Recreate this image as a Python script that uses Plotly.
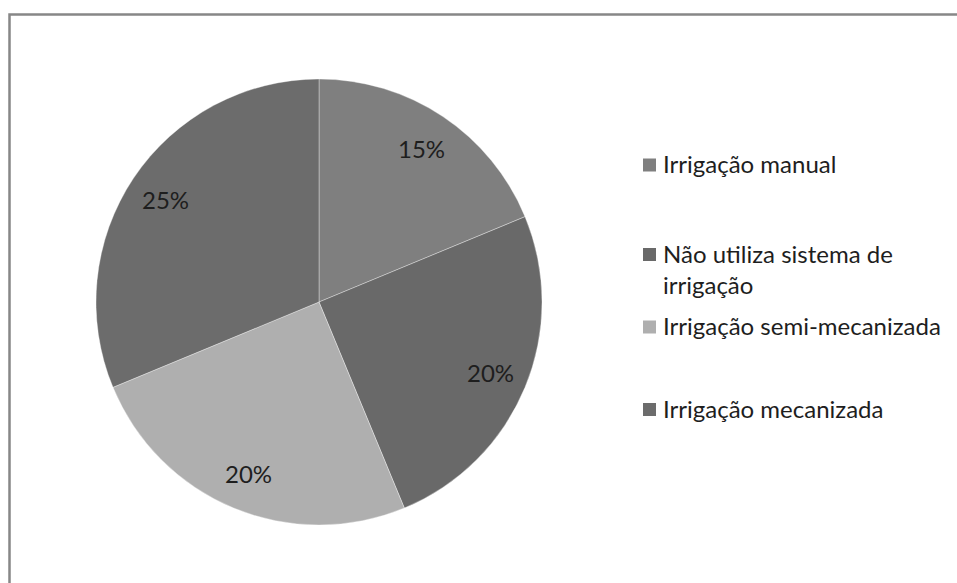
import math
import plotly.graph_objects as go

# Irrigation method shares
categories = [
    "Irrigação manual",
    "Não utiliza sistema de irrigação",
    "Irrigação semi-mecanizada",
    "Irrigação mecanizada",
]
legend_labels = [
    "Irrigação manual",
    "Não utiliza sistema de<br>irrigação",
    "Irrigação semi-mecanizada",
    "Irrigação mecanizada",
]
values = [15, 20, 20, 25]
colors = ["#7f7f7f", "#696969", "#afafaf", "#6c6c6c"]

W, H = 957, 583
FONT = "Lato"

# pie placement in pixels
cx_px, cy_px, r_px = 319, 302, 223
dom_x = [(cx_px - r_px) / W, (cx_px + r_px) / W]
dom_y = [1 - (cy_px + r_px) / H, 1 - (cy_px - r_px) / H]

fig = go.Figure(
    go.Pie(
        labels=categories,
        values=values,
        marker=dict(colors=colors, line=dict(color="rgba(255,255,255,0.35)", width=1)),
        sort=False,
        direction="clockwise",
        rotation=0,
        textinfo="none",
        hoverinfo="label+value",
        showlegend=False,
        domain=dict(x=dom_x, y=dom_y),
    )
)

# value labels placed along each slice's mid-angle
total = sum(values)
cum = 0
annotations = []
for v in values:
    mid = (cum + v / 2) / total * 2 * math.pi
    cum += v
    rr = 0.83 * r_px
    px = cx_px + rr * math.sin(mid)
    py = cy_px - rr * math.cos(mid)
    annotations.append(dict(
        x=px / W, y=1 - py / H, xref="paper", yref="paper",
        text=f"{v}%", showarrow=False,
        font=dict(family=FONT, size=24, color="#1e1e1e"),
        xanchor="center", yanchor="middle",
    ))

# legend drawn as swatches and labels
shapes = []
legend_rows = [165, 254.5, 327, 409.5]
sw = 13
for lab, col, yc in zip(legend_labels, colors, legend_rows):
    shapes.append(dict(
        type="rect", xref="paper", yref="paper",
        x0=643 / W, x1=(643 + sw) / W,
        y0=1 - (yc + sw / 2) / H, y1=1 - (yc - sw / 2) / H,
        fillcolor=col, line=dict(width=0),
    ))
    annotations.append(dict(
        x=661 / W, y=1 - (yc - 18) / H, xref="paper", yref="paper",
        text=lab, showarrow=False, align="left",
        font=dict(family=FONT, size=24, color="#1e1e1e"),
        xanchor="left", yanchor="top",
    ))

# chart-area frame (top and left edges)
shapes.append(dict(
    type="path", xref="paper", yref="paper",
    path=f"M {9.5 / W} -0.1 L {9.5 / W} {1 - 14.5 / H} L 1.1 {1 - 14.5 / H}",
    line=dict(color="#878787", width=2.5),
))

fig.update_layout(
    width=W, height=H,
    margin=dict(l=0, r=0, t=0, b=0),
    paper_bgcolor="white",
    plot_bgcolor="white",
    annotations=annotations,
    shapes=shapes,
    font=dict(family=FONT),
)

fig.write_html("out.html")
